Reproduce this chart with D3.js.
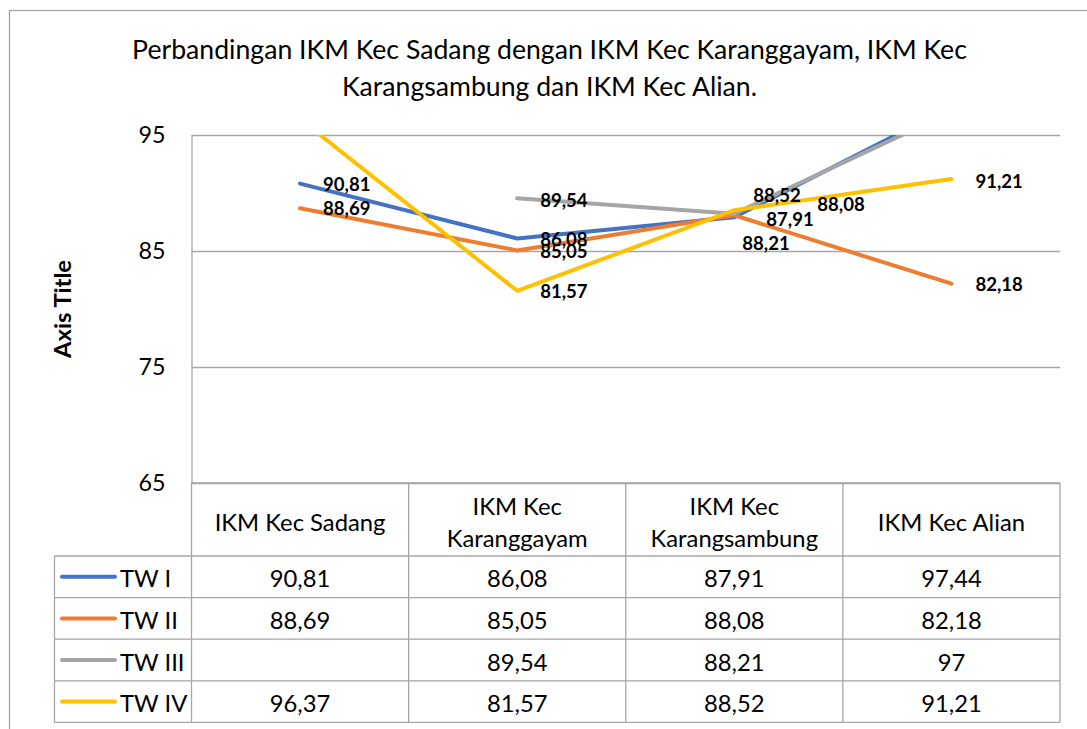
<!DOCTYPE html>
<html><head><meta charset="utf-8">
<script src="https://cdn.jsdelivr.net/npm/d3@7"></script>
<style>html,body{margin:0;padding:0;background:#fff;overflow:hidden;} svg{display:block;}</style>
</head><body>
<svg id="chart" width="1087" height="729"></svg>
<script>
// ---------------- DATA ----------------
const titleLines = ["Perbandingan IKM Kec Sadang dengan IKM Kec Karanggayam, IKM Kec", "Karangsambung dan IKM Kec Alian."];
const categories = ["IKM Kec Sadang", "IKM Kec Karanggayam", "IKM Kec Karangsambung", "IKM Kec Alian"];
const categoryLines = [["IKM Kec Sadang"], ["IKM Kec", "Karanggayam"], ["IKM Kec", "Karangsambung"], ["IKM Kec Alian"]];
const seriesNames = ["TW I", "TW II", "TW III", "TW IV"];
const tw1 = [90.81, 86.08, 87.91, 97.44];
const tw2 = [88.69, 85.05, 88.08, 82.18];
const tw3 = [null, 89.54, 88.21, 97];
const tw4 = [96.37, 81.57, 88.52, 91.21];
const yTicks = [65, 75, 85, 95];
const yTitle = "Axis Title";

// ---------------- STYLE / LAYOUT ----------------
const colors = ["#4472C4", "#ED7D31", "#A5A5A5", "#FFC000"];
const FONT = "Lato, 'Open Sans', 'Noto Sans', sans-serif";
const gridColor = "#A6A6A6";
const plot = {left: 191.5, right: 1060, top: 135, bottom: 483};
const rowEdges = [483, 556, 597.6, 639.2, 680.8, 722.4];
const legendLeft = 54.5;
// manual label nudges [dx, dy] per series / category (as placed in the reference)
const labelNudge = [
  [[23, 0], [23, 1], [32, 2], [23, 0]],
  [[23, 0], [23, 1], [83, -11], [24, 0]],
  [[23, 0], [23, 2], [8, 29], [23, 0]],
  [[23, 0], [23, 0], [19, -15], [24, 2]]
];

const series = [tw1, tw2, tw3, tw4].map((vals, i) => ({name: seriesNames[i], color: colors[i], values: vals}));
const fmt = v => String(v).replace(".", ",");

const svg = d3.select("#chart");

// font fitting helper: find size so sample text reaches target width
function fitSize(sample, weight, target) {
  const t = svg.append("text").attr("font-family", FONT).attr("font-weight", weight).attr("font-size", 100).text(sample);
  const w = t.node().getComputedTextLength();
  t.remove();
  return 100 * target / w;
}
const titleSize = fitSize(titleLines[0], "normal", 835);
const tickSize = fitSize("95", "normal", 27);
const tableSize = fitSize("IKM Kec Sadang", "normal", 171);
const axisTitleSize = fitSize(yTitle, "bold", 98);
const labelSize = fitSize("89,54", "bold", 47.5);

// outer frame
svg.append("rect").attr("x", 9.5).attr("y", 10.5).attr("width", 1200).attr("height", 900)
  .attr("fill", "none").attr("stroke", gridColor).attr("stroke-width", 1.3);

// title
svg.append("g").selectAll("text").data(titleLines).join("text")
  .attr("x", 549.5).attr("y", (d, i) => 58.5 + i * 37.5)
  .attr("text-anchor", "middle").attr("font-family", FONT).attr("font-size", titleSize)
  .attr("fill", "#000").text(d => d);

// scales
const x = d3.scaleBand().domain(categories).range([plot.left, plot.right]);
const cx = c => x(c) + x.bandwidth() / 2;
const y = d3.scaleLinear().domain([65, 95]).range([plot.bottom, plot.top]);

// y axis with gridlines
const yAxis = svg.append("g").attr("transform", `translate(${plot.left},0)`)
  .call(d3.axisLeft(y).tickValues(yTicks).tickSizeInner(-(plot.right - plot.left)).tickSizeOuter(0).tickPadding(26).tickFormat(d3.format("d")));
yAxis.selectAll("line").attr("stroke", gridColor).attr("stroke-width", 1.3);
yAxis.select(".domain").attr("stroke", gridColor).attr("stroke-width", 1.3);
yAxis.selectAll("text").attr("font-family", FONT).attr("font-size", tickSize).attr("fill", "#000");

// axis title
svg.append("text").attr("transform", `translate(62,${(plot.top + plot.bottom) / 2}) rotate(-90)`)
  .attr("text-anchor", "middle").attr("dominant-baseline", "central")
  .attr("font-family", FONT).attr("font-weight", "bold").attr("font-size", axisTitleSize)
  .attr("fill", "#000").text(yTitle);

// data table grid
const tg = svg.append("g").attr("stroke", gridColor).attr("stroke-width", 1.3);
rowEdges.forEach((ry, i) => {
  tg.append("line").attr("x1", i === 0 ? plot.left : legendLeft).attr("x2", plot.right).attr("y1", ry).attr("y2", ry);
});
const colEdges = categories.map(c => x(c)).concat([plot.right]);
colEdges.forEach(cxv => {
  tg.append("line").attr("x1", cxv).attr("x2", cxv).attr("y1", rowEdges[0]).attr("y2", rowEdges[rowEdges.length - 1]);
});
tg.append("line").attr("x1", legendLeft).attr("x2", legendLeft).attr("y1", rowEdges[1]).attr("y2", rowEdges[rowEdges.length - 1]);

// header text
const hg = svg.append("g").attr("font-family", FONT).attr("font-size", tableSize).attr("fill", "#000").attr("text-anchor", "middle");
categories.forEach((c, i) => {
  const lines = categoryLines[i];
  const mid = (rowEdges[0] + rowEdges[1]) / 2;
  lines.forEach((ln, j) => {
    hg.append("text").attr("x", cx(c)).attr("y", mid + (j - (lines.length - 1) / 2) * 32 + 2)
      .attr("dominant-baseline", "central").text(ln);
  });
});

// table rows
series.forEach((s, i) => {
  const mid = (rowEdges[i + 1] + rowEdges[i + 2]) / 2;
  svg.append("line").attr("x1", 62).attr("x2", 115).attr("y1", mid).attr("y2", mid)
    .attr("stroke", s.color).attr("stroke-width", 4).attr("stroke-linecap", "round");
  svg.append("text").attr("x", 120).attr("y", mid + 1).attr("dominant-baseline", "central")
    .attr("font-family", FONT).attr("font-size", tableSize).attr("fill", "#000").text(s.name);
  s.values.forEach((v, j) => {
    if (v == null) return;
    svg.append("text").attr("x", cx(categories[j])).attr("y", mid + 1).attr("dominant-baseline", "central")
      .attr("text-anchor", "middle").attr("font-family", FONT).attr("font-size", tableSize).attr("fill", "#000").text(fmt(v));
  });
});

// lines (clipped to plot area)
svg.append("clipPath").attr("id", "plotclip").append("rect")
  .attr("x", plot.left).attr("y", plot.top).attr("width", plot.right - plot.left).attr("height", plot.bottom - plot.top);
const line = d3.line().defined(d => d.v != null).x(d => cx(d.c)).y(d => y(d.v));
const lg = svg.append("g").attr("clip-path", "url(#plotclip)");
series.forEach(s => {
  lg.append("path").datum(s.values.map((v, j) => ({c: categories[j], v})))
    .attr("d", line).attr("fill", "none").attr("stroke", s.color).attr("stroke-width", 4)
    .attr("stroke-linejoin", "round").attr("stroke-linecap", "round");
});

// data labels
const labG = svg.append("g").attr("font-family", FONT).attr("font-weight", "bold").attr("font-size", labelSize).attr("fill", "#000");
series.forEach((s, i) => {
  s.values.forEach((v, j) => {
    if (v == null || v > 95 || v < 65) return;
    const [dx, dy] = labelNudge[i][j];
    labG.append("text").attr("x", cx(categories[j]) + dx).attr("y", y(v) + dy)
      .attr("dominant-baseline", "central").text(fmt(v));
  });
});
</script>
</body></html>
